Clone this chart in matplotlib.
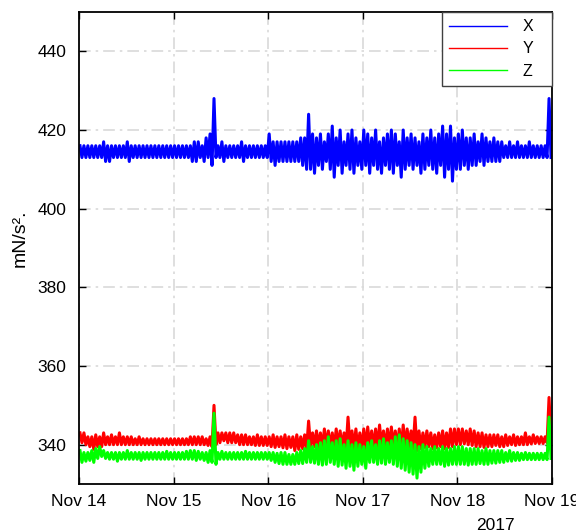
import datetime
import matplotlib
matplotlib.use("Agg")
import matplotlib.pyplot as plt
import matplotlib.dates as mdates

# horas desde Nov 14 00:00, un valor alto y uno bajo por hora
x_alto = [416,416,416,416,416,416,417,416,416,416,416,416,417,416,416,416,416,416,416,416,416,416,416,416,
          416,416,416,416,416,417,417,416,418,419,428,416,417,416,416,416,416,417,416,416,416,416,416,416,
          419,417,417,417,417,417,417,417,418,418,424,419,
          418,419,417,419,421,418,420,417,419,420,418,417,420,419,418,420,417,418,419,420,419,417,420,418,
          419,418,417,419,418,420,418,419,421,419,421,418,
          419,420,418,418,419,417,419,418,417,418,417,417,416,417,416,417,416,416,417,416,416,416,416,428]
x_bajo = [413,413,413,413,413,413,412,412,413,413,413,413,412,413,413,413,413,413,413,413,413,413,413,413,
          413,413,413,413,412,412,413,412,413,411,413,413,412,413,413,413,413,412,413,413,413,413,413,413,
          412,411,412,412,412,412,412,412,411,410,410,409,
          411,410,412,410,408,411,409,411,410,409,411,410,411,409,411,410,409,411,410,409,411,408,410,411,
          410,411,409,410,411,410,409,411,408,410,407,410,
          410,411,410,411,411,412,411,412,412,412,412,413,413,413,413,413,413,413,413,413,413,413,413,413]

y_alto = [343,343,342,342,342.5,342,343,342,342.5,342,343,342,342,342,341.5,342,341.5,341.5,341.5,341.5,341.5,341.5,341.5,341.5,
          341.5,341.5,341.5,341.5,342,342,342,342,341.5,342,350,343,343,343,343,343,342.5,342.5,342.5,342,342,342.5,342,342,
          342,342.5,342,342,342.5,342,342,342.5,342,342.5,346,343,
          343.5,343,344,343.5,343,344,343.5,343,347,343.5,344,343,344,344.5,343.5,344,345,343.5,344,344.5,343.5,344,345,344,
          343.5,347,343.5,343,343.5,343,342.5,343,343.5,343,344,344,
          344,344,343.5,344,343.5,343,343,342.5,342.5,342.5,342.5,342,342.5,342,342.5,342,342,343,342,342.5,342,342,342,352]
y_bajo = [340.5,340,339.5,338.8,339.5,339.5,340,340,340,340,340,340,340,340,340,340,340,340,340,340,340,340,340,340,
          340,340,340,340,340,340,340,340,339.8,339.5,340,340.5,341,340.5,340.5,340.5,340,340,340,340,339.8,339.8,339.8,339.8,
          339.5,339.3,339.5,339.2,339,339.3,338.5,338.8,339,339,339.5,339.5,
          339.5,339,339.5,339.2,339,339.5,339,338.8,339.5,339,338.5,338.8,339,339.5,339,339.2,339.5,339,339.3,339.5,339,338.8,339.2,339.5,
          339,338.5,339,339.3,339.5,339,339.2,339.5,339,339.3,339.5,340,
          340,340.2,340,339.8,339.5,339.5,339.3,339.5,339.5,339.8,339.5,339.5,339.8,340,339.8,340,340,340,340.2,340.3,340.3,340.3,340.5,340.5]

z_alto = [338.5,338,338,338.5,339,339.5,338.5,338,338,338,338,338,338.5,338,338,338,338,338,338,338,338,338,338.3,338,
          338,338,338,338.3,338.5,338.5,338.3,338,338,338.5,348,338,338.3,338,338,338,338,338,338.3,338,338,338,338,338,
          338,338,337.8,338,338,337.5,337.5,338,338.5,339,341,339.5,
          340,340.5,341,342,340.5,341,341.5,340,341,340,340.5,340,339.5,340.5,341,340,341,341.5,340.5,341,342,342.5,341.5,341,
          340.5,340,339.5,340,339.5,339,339.5,339,339.5,339,339,339.5,
          339.5,339.5,339,339,339,339,338.5,339,338.5,338.5,338.5,338.5,338,338.5,338,338,337.8,338,337.8,337.8,337.8,337.8,337.8,347]
z_bajo = [335.5,335.8,336,335.5,336.5,337,336.5,336.3,336.3,335.8,336.3,336.3,336.3,336.3,336.3,336,336.3,336.3,336.3,336.3,336.3,336.3,336.3,336.3,
          336.3,336.3,336.3,336.3,336.3,336,336.3,336,335.5,335.5,335,336.3,336.3,336.3,336.3,336.3,336.3,336.3,336.3,336.3,336.3,336.3,336.3,336.3,
          336,335.5,335.2,335,335,335,335,335.2,335.2,335.5,335.5,335.3,
          335,334.8,335,335.5,335,334.5,334.8,334,334.5,333.5,334.5,335,334,335.5,335.5,335,335.3,335,335.5,335,334.5,334,333.5,333,
          332.5,331.5,333,334,334.5,335,335,335,334.5,334.8,335,335,
          335,335,334.8,335,335,335.2,335,335,335.3,335.3,335.5,335.5,335.8,335.8,336,336,336.2,336.2,336.2,336.2,336.2,336.2,336.2,336.5]

etiquetas = ["X", "Y", "Z"]
colores = ["#0000ff", "#ff0000", "#00ff00"]

plt.rcParams['font.family'] = ['Liberation Sans', 'DejaVu Sans']

inicio = datetime.datetime(2017, 11, 14)


def serie(alto, bajo):
    tiempos = []
    valores = []
    for h in range(len(alto)):
        tiempos.append(inicio + datetime.timedelta(hours=h + 0.25))
        valores.append(alto[h])
        tiempos.append(inicio + datetime.timedelta(hours=h + 0.75))
        valores.append(bajo[h])
    return tiempos, valores


fig = plt.figure(figsize=(5.76, 5.31), dpi=100)
ax = fig.add_axes([79/576, 1-484/531, (552-79)/576, (484-12)/531])

for alto, bajo, etiqueta, color in zip([x_alto, y_alto, z_alto], [x_bajo, y_bajo, z_bajo], etiquetas, colores):
    t, v = serie(alto, bajo)
    ax.plot(t, v, color=color, lw=2.2, label=etiqueta)

ax.set_xlim(inicio, inicio + datetime.timedelta(days=5))
ax.set_ylim(330, 450)
ax.set_yticks([340, 360, 380, 400, 420, 440])
ax.xaxis.set_major_locator(mdates.DayLocator())
ax.xaxis.set_major_formatter(mdates.DateFormatter('%b %d'))

ax.grid(True, color='#d9d9d9', lw=1.2, linestyle=(0, (7, 3, 1.5, 3)))
ax.set_axisbelow(True)
for s in ax.spines.values():
    s.set_linewidth(1.3)
ax.tick_params(direction='in', top=True, right=True, length=5, width=1, labelsize=12.5)
ax.tick_params(axis='y', pad=9)
ax.tick_params(axis='x', pad=7)

ax.set_ylabel('mN/s².', fontsize=14)
ax.yaxis.set_label_coords(-0.106, 0.52)
fig.text(495/576, 1-525/531, '2017', ha='center', va='center', fontsize=12.5)

leyenda = ax.legend(loc='upper right', mode='expand', bbox_to_anchor=((442-79)/473, 0, (552-442)/473, 1),
                    fancybox=False, edgecolor='#404040', borderaxespad=0,
                    handlelength=3.6, handletextpad=1.0, borderpad=0.45, labelspacing=0.45,
                    fontsize=11.5, framealpha=1)
leyenda.get_frame().set_linewidth(1.0)
for linea in leyenda.get_lines():
    linea.set_linewidth(1.0)

plt.savefig("out.png", dpi=100)
plt.close()
